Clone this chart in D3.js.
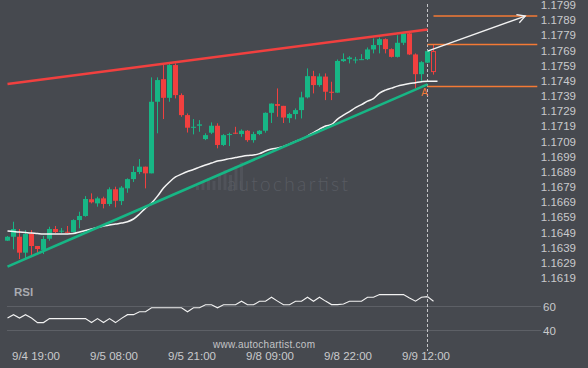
<!DOCTYPE html>
<html>
<head>
<meta charset="utf-8">
<script src="https://cdn.jsdelivr.net/npm/d3@7"></script>
<style>
  html, body { margin: 0; padding: 0; background: #46494f; }
  svg { display: block; }
</style>
</head>
<body>
<script>
// hourly candles
var opens  = [1.16436,1.16462,1.16462,1.16357,1.16480,1.16401,1.16375,1.16449,1.16513,1.16500,
              1.16495,1.16493,1.16572,1.16599,1.16709,1.16682,1.16715,1.16678,1.16775,1.16697,
              1.16781,1.16842,1.16889,1.16924,1.16880,1.17352,1.17501,1.17378,1.17594,1.17396,
              1.17264,1.17181,1.17194,1.17106,1.17148,1.17194,1.17067,1.17136,1.17148,1.17139,
              1.17161,1.17099,1.17139,1.17161,1.17279,1.17337,1.17325,1.17244,1.17271,1.17297,
              1.17381,1.17521,1.17462,1.17518,1.17418,1.17412,1.17620,1.17633,1.17627,1.17627,
              1.17633,1.17697,1.17726,1.17765,1.17699,1.17648,1.17741,1.17803,1.17664,1.17534,
              1.17610,1.17683];
var highs  = [1.16467,1.16561,1.16513,1.16506,1.16506,1.16401,1.16467,1.16528,1.16533,1.16520,
              1.16533,1.16577,1.16627,1.16730,1.16748,1.16726,1.16726,1.16788,1.16792,1.16796,
              1.16847,1.16928,1.16974,1.16924,1.17513,1.17513,1.17594,1.17605,1.17605,1.17407,
              1.17275,1.17238,1.17231,1.17144,1.17216,1.17210,1.17139,1.17148,1.17187,1.17170,
              1.17165,1.17154,1.17165,1.17282,1.17341,1.17440,1.17325,1.17279,1.17308,1.17418,
              1.17572,1.17556,1.17539,1.17539,1.17484,1.17631,1.17671,1.17653,1.17648,1.17666,
              1.17710,1.17770,1.17776,1.17770,1.17704,1.17791,1.17813,1.17813,1.17671,1.17620,
              1.17693,1.17729];
var lows   = [1.16434,1.16379,1.16315,1.16315,1.16342,1.16355,1.16348,1.16436,1.16487,1.16487,
              1.16487,1.16489,1.16518,1.16594,1.16682,1.16660,1.16649,1.16664,1.16656,1.16671,
              1.16752,1.16823,1.16875,1.16781,1.16880,1.17144,1.17238,1.17352,1.17374,1.17253,
              1.17149,1.17137,1.17154,1.17099,1.17139,1.17045,1.17060,1.17060,1.17139,1.17121,
              1.17088,1.17082,1.17132,1.17148,1.17212,1.17253,1.17212,1.17213,1.17236,1.17242,
              1.17374,1.17407,1.17451,1.17363,1.17363,1.17411,1.17615,1.17605,1.17605,1.17627,
              1.17627,1.17671,1.17671,1.17671,1.17644,1.17644,1.17726,1.17660,1.17440,1.17482,
              1.17607,1.17531];
var closes = [1.16462,1.16513,1.16357,1.16480,1.16401,1.16381,1.16447,1.16513,1.16493,1.16502,
              1.16493,1.16572,1.16599,1.16711,1.16689,1.16715,1.16678,1.16775,1.16699,1.16786,
              1.16842,1.16889,1.16924,1.16880,1.17352,1.17495,1.17378,1.17594,1.17396,1.17264,
              1.17181,1.17187,1.17203,1.17132,1.17194,1.17067,1.17132,1.17139,1.17146,1.17161,
              1.17099,1.17139,1.17161,1.17279,1.17340,1.17325,1.17248,1.17271,1.17297,1.17381,
              1.17521,1.17462,1.17519,1.17418,1.17411,1.17621,1.17633,1.17644,1.17631,1.17633,
              1.17697,1.17726,1.17765,1.17699,1.17648,1.17741,1.17803,1.17664,1.17534,1.17613,
              1.17686,1.17551];

// white moving average
var maValues = [1.16500,1.16496,1.16493,1.16490,1.16487,1.16483,1.16480,1.16480,1.16480,1.16480,
                1.16480,1.16483,1.16493,1.16503,1.16513,1.16523,1.16533,1.16539,1.16546,1.16552,
                1.16561,1.16579,1.16612,1.16651,1.16684,1.16730,1.16783,1.16823,1.16856,1.16875,
                1.16892,1.16905,1.16921,1.16935,1.16948,1.16961,1.16968,1.16977,1.16984,1.16991,
                1.16997,1.17001,1.17010,1.17027,1.17040,1.17047,1.17057,1.17073,1.17090,1.17106,
                1.17126,1.17149,1.17172,1.17192,1.17202,1.17238,1.17264,1.17287,1.17314,1.17333,
                1.17356,1.17373,1.17409,1.17429,1.17442,1.17455,1.17464,1.17472,1.17478,1.17484,
                1.17488,1.17488];

// RSI panel
var rsiValues = [50.4,53.2,50.4,53.2,50.4,46.6,46.6,49.9,49.9,49.9,
                 49.9,49.9,49.9,49.9,46.6,49.9,46.6,49.9,46.6,50.1,
                 53.2,53.2,55.6,55.6,58.9,58.9,58.9,58.9,58.9,58.9,
                 55.6,58.9,58.9,61.4,61.4,58.9,61.4,61.4,61.4,64.4,
                 61.4,61.4,64.4,64.4,67.7,64.5,61.4,61.4,64.4,64.4,
                 67.7,64.4,67.7,64.5,61.6,61.6,62.1,64.4,64.4,64.4,
                 67.7,67.7,69.9,69.9,69.9,69.9,69.9,67.0,64.4,67.7,
                 68.2,64.4];
var rsiTicks = [60, 40];

var priceTicks = d3.range(19).map(function (k) { return +(1.1619 + k * 0.001).toFixed(4); });
var timeLabels = ["9/4 19:00", "9/5 08:00", "9/5 21:00", "9/8 09:00", "9/8 22:00", "9/9 12:00"];
var timeIndex  = [5, 18, 31, 44, 57, 70];

// pattern: [startIndex, startPrice, endIndex, endPrice]
var resistance = [0, 1.17469, 70, 1.17829];
var support    = [0, 1.16265, 70, 1.17467];
var levels     = [1.17730, 1.17453];           // from the breakout candle
var target     = 1.17917;                      // projected level
var projection = [70, 1.17686, 86.3, 1.17917]; // white arrow
var breakIndex = 70;
var projEnd    = 88.3;

var W = 588, H = 368;
var green = "#17b685", red = "#f1403f", orange = "#f47a35";

var svg = d3.select("body").append("svg")
    .attr("width", W).attr("height", H);

svg.append("rect").attr("width", W).attr("height", H).attr("fill", "#46494f");

var x = d3.scaleLinear().domain([0, 71]).range([7.5, 433.5]);
var y = d3.scaleLinear().domain([1.1619, 1.1799]).range([278, 5]);
var r = d3.scaleLinear().domain([40, 60]).range([330.5, 306.5]);

/// watermark
var wm = svg.append("g").attr("fill", "#50535a");
[4, 8, 12, 9, 16, 20, 15, 24, 28].forEach(function (hgt, k) {
  wm.append("rect").attr("x", 196 + k * 5.5).attr("y", 190 - hgt)
    .attr("width", 3).attr("height", hgt);
});
svg.append("text").text("autochartist")
    .attr("x", 227).attr("y", 191)
    .attr("font-family", "Lato, 'Open Sans', sans-serif").attr("font-weight", 300)
    .attr("font-size", 19).attr("textLength", 121).attr("fill", "#585b62");

/// price axis labels
svg.append("g").selectAll("text").data(priceTicks).enter().append("text")
    .text(function (d) { return d.toFixed(4); })
    .attr("x", 576).attr("y", function (d) { return y(d); })
    .attr("dy", "0.35em").attr("text-anchor", "end")
    .attr("font-family", "'Liberation Sans', Arial, sans-serif").attr("font-size", 11.5)
    .attr("fill", "#c9cacc");

/// time labels
svg.append("g").selectAll("text").data(timeLabels).enter().append("text")
    .text(function (d) { return d; })
    .attr("x", function (d, i) { return x(timeIndex[i]) - 1.5; })
    .attr("y", 360).attr("text-anchor", "middle")
    .attr("font-family", "'Liberation Sans', Arial, sans-serif").attr("font-size", 11.5)
    .attr("fill", "#c9cacc");

svg.append("text").text("www.autochartist.com")
    .attr("x", 213).attr("y", 348).attr("textLength", 102)
    .attr("font-family", "'Liberation Sans', Arial, sans-serif").attr("font-size", 10)
    .attr("fill", "#c3c4c6");

/// RSI panel
svg.append("text").text("RSI").attr("x", 14).attr("y", 296)
    .attr("font-family", "'Liberation Sans', Arial, sans-serif").attr("font-weight", "bold")
    .attr("font-size", 11.5).attr("fill", "#a9abb0");

svg.append("g").selectAll("line").data(rsiTicks).enter().append("line")
    .attr("x1", 7).attr("x2", 541)
    .attr("y1", function (d) { return r(d); }).attr("y2", function (d) { return r(d); })
    .attr("stroke", "#5d6066").attr("stroke-width", 1);

svg.append("g").selectAll("text").data(rsiTicks).enter().append("text")
    .text(function (d) { return d; })
    .attr("x", 543).attr("y", function (d) { return r(d); }).attr("dy", "0.35em")
    .attr("font-family", "'Liberation Sans', Arial, sans-serif").attr("font-size", 11.5)
    .attr("fill", "#c9cacc");

svg.append("path").datum(rsiValues)
    .attr("d", d3.line().x(function (d, i) { return x(i); }).y(function (d) { return r(d); }))
    .attr("fill", "none").attr("stroke", "#f2f2f2").attr("stroke-width", 1.1);

/// breakout marker
svg.append("line")
    .attr("x1", x(breakIndex)).attr("x2", x(breakIndex)).attr("y1", 4).attr("y2", 351)
    .attr("stroke", "#c4c5c8").attr("stroke-width", 1).attr("stroke-dasharray", "3,2");

/// candles
var candles = svg.append("g");
d3.range(opens.length).forEach(function (i) {
  var up = closes[i] >= opens[i];
  var last = i === opens.length - 1;
  var col = up ? green : red;
  var top = y(Math.max(opens[i], closes[i]));
  var bot = y(Math.min(opens[i], closes[i]));
  if (last) {
    candles.append("line").attr("x1", x(i)).attr("x2", x(i))
      .attr("y1", y(highs[i])).attr("y2", top).attr("stroke", col);
    candles.append("line").attr("x1", x(i)).attr("x2", x(i))
      .attr("y1", bot).attr("y2", y(lows[i])).attr("stroke", col);
    candles.append("rect").attr("x", x(i) - 2).attr("y", top)
      .attr("width", 4).attr("height", bot - top)
      .attr("fill", "none").attr("stroke", col).attr("stroke-width", 1);
    return;
  }
  candles.append("line").attr("x1", x(i)).attr("x2", x(i))
    .attr("y1", y(highs[i])).attr("y2", y(lows[i]))
    .attr("stroke", col).attr("stroke-width", 1);
  candles.append("rect").attr("x", x(i) - 2.5).attr("y", top)
    .attr("width", 5).attr("height", Math.max(1, bot - top))
    .attr("fill", col);
});

/// moving average
svg.append("path").datum(maValues)
    .attr("d", d3.line().x(function (d, i) { return x(i) + (i === maValues.length - 1 ? 4 : 0); })
                        .y(function (d) { return y(d); }).curve(d3.curveMonotoneX))
    .attr("fill", "none").attr("stroke", "#f4f4f4").attr("stroke-width", 1.5);

/// trend lines
[[resistance, red], [support, green]].forEach(function (t) {
  var s = t[0];
  svg.append("line")
    .attr("x1", x(s[0])).attr("y1", y(s[1])).attr("x2", x(s[2])).attr("y2", y(s[3]))
    .attr("stroke", t[1]).attr("stroke-width", 2.6);
});

/// levels
svg.append("g").selectAll("line").data(levels).enter().append("line")
    .attr("x1", x(breakIndex)).attr("x2", x(projEnd))
    .attr("y1", function (d) { return y(d); }).attr("y2", function (d) { return y(d); })
    .attr("stroke", orange).attr("stroke-width", 1.5);
svg.append("line")
    .attr("x1", x(breakIndex + 1)).attr("x2", x(projEnd))
    .attr("y1", y(target)).attr("y2", y(target))
    .attr("stroke", orange).attr("stroke-width", 1.5);

svg.append("text").text("A")
    .attr("x", x(breakIndex) - 3).attr("y", y(levels[1]) + 10)
    .attr("text-anchor", "middle")
    .attr("font-family", "'Liberation Sans', Arial, sans-serif").attr("font-size", 10)
    .attr("fill", orange);

/// projection arrow
var ax1 = x(projection[0]), ay1 = y(projection[1]);
var ax2 = x(projection[2]), ay2 = y(projection[3]);
var ang = Math.atan2(ay2 - ay1, ax2 - ax1);
svg.append("line").attr("x1", ax1).attr("y1", ay1).attr("x2", ax2).attr("y2", ay2)
    .attr("stroke", "#f2f2f2").attr("stroke-width", 1.3);
svg.append("path")
    .attr("d", "M" + (ax2 - 9 * Math.cos(ang - 0.5)) + "," + (ay2 - 9 * Math.sin(ang - 0.5)) +
               "L" + ax2 + "," + ay2 +
               "L" + (ax2 - 9 * Math.cos(ang + 0.5)) + "," + (ay2 - 9 * Math.sin(ang + 0.5)))
    .attr("fill", "none").attr("stroke", "#f2f2f2").attr("stroke-width", 1.3);
</script>
</body>
</html>
